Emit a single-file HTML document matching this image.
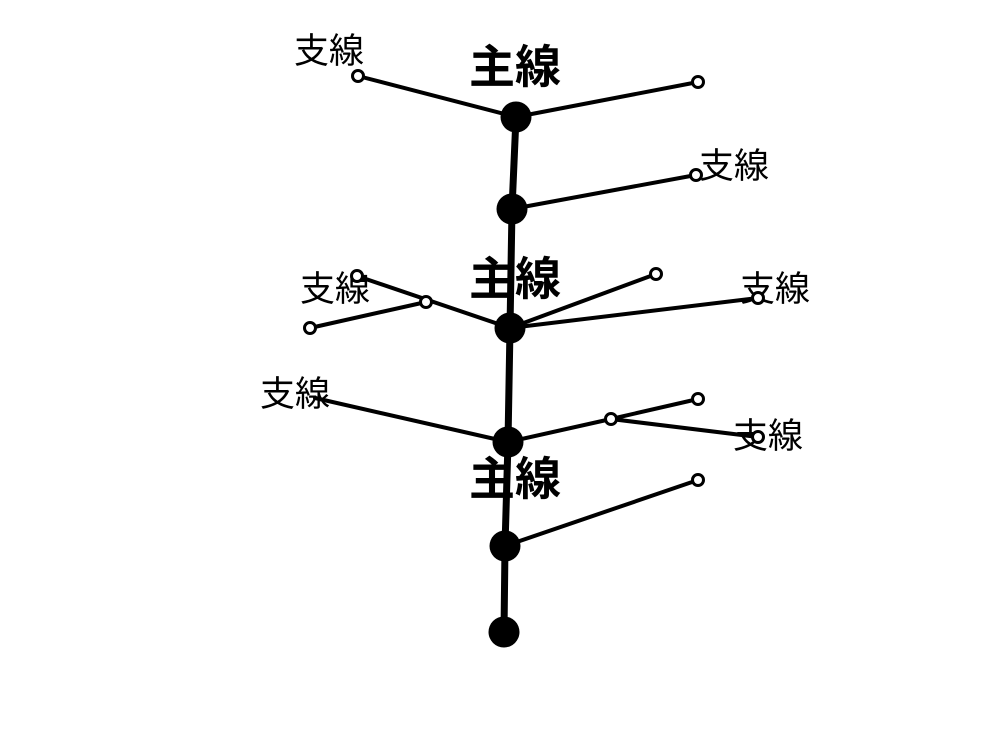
<!DOCTYPE html>
<html><head><meta charset="utf-8"><style>
html,body{margin:0;padding:0;background:#fff;}
svg{display:block;}
.m{font-family:"Liberation Sans","Noto Sans CJK JP",sans-serif;font-weight:bold;font-size:46px;}
.b{font-family:"Liberation Sans","Noto Sans CJK JP",sans-serif;font-size:35px;}
</style></head><body>
<svg width="1000" height="750" viewBox="0 0 1000 750" xmlns="http://www.w3.org/2000/svg">
<rect width="1000" height="750" fill="#fff"/>
<text class="m" x="469" y="83">主線</text>
<text class="m" x="469" y="295">主線</text>
<text class="m" x="469" y="495">主線</text>
<text class="b" x="294" y="63">支線</text>
<text class="b" x="699" y="178">支線</text>
<text class="b" x="300" y="301">支線</text>
<text class="b" x="740" y="301">支線</text>
<text class="b" x="260" y="406">支線</text>
<text class="b" x="733" y="448">支線</text>
<g stroke="#000" stroke-width="4" fill="none" stroke-linecap="round">
<line x1="516" y1="117" x2="358" y2="76"/>
<line x1="516" y1="117" x2="698" y2="82"/>
<line x1="512" y1="209" x2="696" y2="175"/>
<line x1="510" y1="328" x2="357" y2="276"/>
<line x1="426" y1="302" x2="310" y2="328"/>
<line x1="510" y1="328" x2="656" y2="274"/>
<line x1="510" y1="328" x2="758" y2="298"/>
<line x1="508" y1="442" x2="315" y2="398"/>
<line x1="508" y1="442" x2="611" y2="419"/>
<line x1="611" y1="419" x2="698" y2="399"/>
<line x1="611" y1="419" x2="758" y2="437"/>
<line x1="505" y1="546" x2="698" y2="480"/>
</g>
<polyline points="516,117 512,209 510,328 508,442 505,546 504,632" stroke="#000" stroke-width="7" fill="none"/>
<g fill="#000">
<circle cx="516" cy="117" r="15.5"/>
<circle cx="512" cy="209" r="15.5"/>
<circle cx="510" cy="328" r="15.5"/>
<circle cx="508" cy="442" r="15.5"/>
<circle cx="505" cy="546" r="15.5"/>
<circle cx="504" cy="632" r="15.5"/>
</g>
<g fill="#fff" stroke="#000" stroke-width="3">
<circle cx="358" cy="76" r="5.5"/>
<circle cx="698" cy="82" r="5.5"/>
<circle cx="696" cy="175" r="5.5"/>
<circle cx="357" cy="276" r="5.5"/>
<circle cx="426" cy="302" r="5.5"/>
<circle cx="310" cy="328" r="5.5"/>
<circle cx="656" cy="274" r="5.5"/>
<circle cx="758" cy="298" r="5.5"/>
<circle cx="611" cy="419" r="5.5"/>
<circle cx="698" cy="399" r="5.5"/>
<circle cx="758" cy="437" r="5.5"/>
<circle cx="698" cy="480" r="5.5"/>
</g>
</svg>
</body></html>
